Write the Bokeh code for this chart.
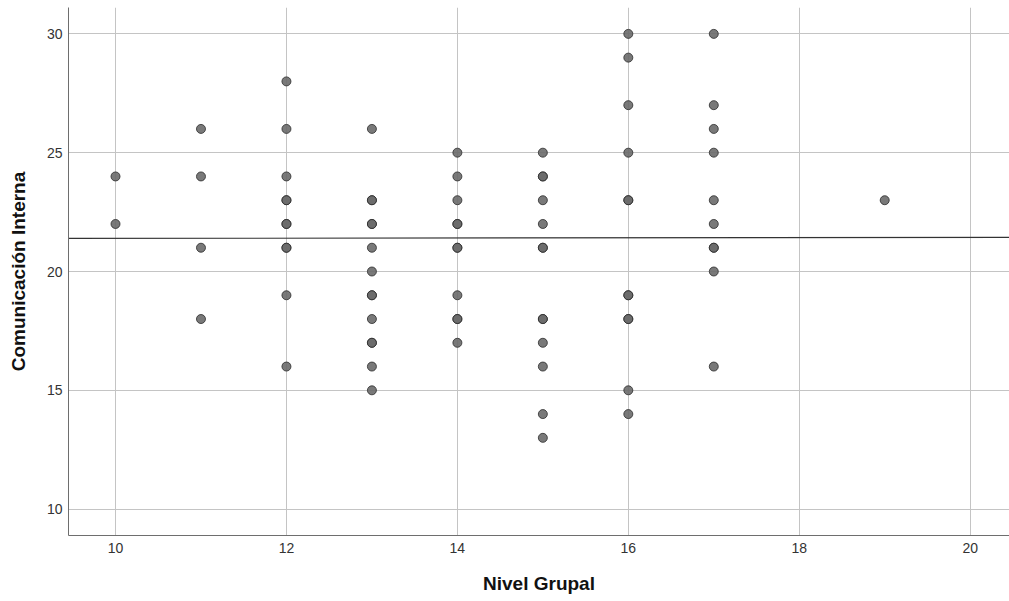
from bokeh.plotting import figure
from bokeh.models import Range1d, FixedTicker
from bokeh.embed import file_html
from bokeh.resources import INLINE

# Data: (Nivel Grupal, Comunicación Interna); repeated pairs are overlapping cases
nivel_grupal = (
    [10, 10]
    + [11, 11, 11, 11]
    + [12, 12, 12, 12, 12, 12, 12, 12, 12, 12, 12]
    + [13, 13, 13, 13, 13, 13, 13, 13, 13, 13, 13, 13, 13, 13]
    + [14, 14, 14, 14, 14, 14, 14, 14, 14, 14, 14]
    + [15, 15, 15, 15, 15, 15, 15, 15, 15, 15, 15, 15, 15]
    + [16, 16, 16, 16, 16, 16, 16, 16, 16, 16, 16, 16]
    + [17, 17, 17, 17, 17, 17, 17, 17, 17, 17]
    + [19]
)
comunicacion_interna = (
    [24, 22]
    + [26, 24, 21, 18]
    + [28, 26, 24, 23, 23, 22, 22, 21, 21, 19, 16]
    + [26, 23, 23, 22, 22, 21, 20, 19, 19, 18, 17, 17, 16, 15]
    + [25, 24, 23, 22, 22, 21, 21, 19, 18, 18, 17]
    + [25, 24, 24, 23, 22, 21, 21, 18, 18, 17, 16, 14, 13]
    + [30, 29, 27, 25, 23, 23, 19, 19, 18, 18, 15, 14]
    + [30, 27, 26, 25, 23, 22, 21, 21, 20, 16]
    + [23]
)

# Linear fit line (endpoints at the x-range limits)
fit_x = [9.45, 20.46]
fit_y = [21.39, 21.44]

x_ticks = [10, 12, 14, 16, 18, 20]
y_ticks = [10, 15, 20, 25, 30]

p = figure(
    width=1009, height=601,
    output_backend="svg", toolbar_location=None,
    x_range=Range1d(9.45, 20.46), y_range=Range1d(8.89, 31.11),
    min_border_left=68, min_border_right=0, min_border_top=7, min_border_bottom=66,
)
p.outline_line_color = None
p.background_fill_color = "white"

p.xgrid.ticker = FixedTicker(ticks=x_ticks)
p.ygrid.ticker = FixedTicker(ticks=y_ticks)
p.xaxis.ticker = FixedTicker(ticks=x_ticks)
p.yaxis.ticker = FixedTicker(ticks=y_ticks)
for g in (p.xgrid, p.ygrid):
    g.grid_line_color = "#c4c4c4"
    g.grid_line_width = 1

for ax in (p.xaxis, p.yaxis):
    ax.axis_line_color = "#6e6e6e"
    ax.axis_line_width = 1
    ax.major_tick_line_color = None
    ax.minor_tick_line_color = None
    ax.major_tick_out = 0
    ax.major_tick_in = 0
    ax.minor_tick_out = 0
    ax.minor_tick_in = 0
    ax.major_label_text_font = "Liberation Sans"
    ax.major_label_text_font_size = "14px"
    ax.major_label_text_color = "#333333"
    ax.axis_label_text_font = "Liberation Sans"
    ax.axis_label_text_font_size = "19px"
    ax.axis_label_text_font_style = "bold"
    ax.axis_label_text_color = "#111111"

p.xaxis.axis_label = "Nivel Grupal"
p.yaxis.axis_label = "Comunicación Interna"
p.xaxis.major_label_standoff = 7
p.yaxis.major_label_standoff = 6
p.xaxis.axis_label_standoff = 17
p.yaxis.axis_label_standoff = 15

p.line(fit_x, fit_y, line_color="#333333", line_width=1.2)

p.scatter(nivel_grupal, comunicacion_interna, size=9,
          fill_color="#6a6a6a", fill_alpha=0.9,
          line_color="#2b2b2b", line_width=1, line_alpha=0.8)

open("out.html", "w").write(file_html(p, INLINE))
